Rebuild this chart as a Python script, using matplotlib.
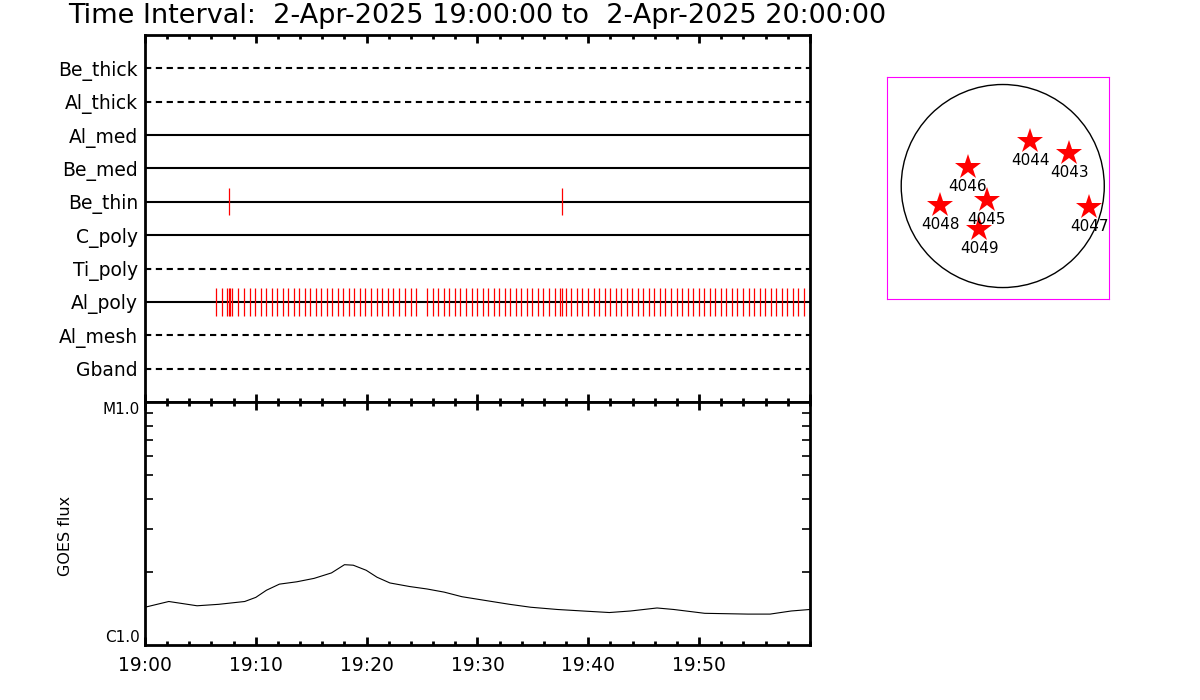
import matplotlib
matplotlib.use('Agg')
import matplotlib.pyplot as plt
from matplotlib.patches import Circle
from matplotlib.ticker import MultipleLocator, LogLocator, NullFormatter

title = 'Time Interval:  2-Apr-2025 19:00:00 to  2-Apr-2025 20:00:00'

# filter rows, top to bottom
filters = ['Be_thick', 'Al_thick', 'Al_med', 'Be_med', 'Be_thin',
           'C_poly', 'Ti_poly', 'Al_poly', 'Al_mesh', 'Gband']
dashed = ['Be_thick', 'Al_thick', 'Ti_poly', 'Al_mesh', 'Gband']

# exposure times, minutes after 19:00
be_thin_times = [7.58, 37.59]
al_poly_times = [
    6.43, 6.92, 7.43, 7.58, 7.70, 7.88, 8.42, 8.96, 9.45, 9.95,
    10.44, 10.94, 11.43, 11.94, 12.42, 12.93, 13.42, 13.92, 14.41, 14.91,
    15.40, 15.91, 16.42, 16.90, 17.41, 17.89, 18.41, 18.88, 19.40, 19.88,
    20.39, 20.91, 21.38, 21.90, 22.40, 22.89, 23.49, 23.97, 24.48, 25.47,
    25.99, 26.46, 26.98, 27.46, 27.97, 28.45, 28.96, 29.48, 29.96, 30.47,
    30.98, 31.49, 31.97, 32.45, 32.96, 33.47, 33.95, 34.47, 34.95, 35.46,
    35.94, 36.48, 36.97, 37.47, 37.65, 37.99, 38.46, 38.95, 39.46, 39.97,
    40.49, 40.96, 41.48, 41.96, 42.47, 42.98, 43.46, 43.97, 44.48, 44.96,
    45.48, 45.95, 46.47, 46.95, 47.46, 47.97, 48.45, 48.97, 49.47, 49.96,
    50.46, 50.95, 51.46, 51.97, 52.45, 52.96, 53.44, 53.96, 54.47, 54.95,
    55.46, 55.97, 56.45, 56.96, 57.45, 57.95, 58.47, 58.95, 59.46, 59.97]

# GOES 1-8 A flux
goes_min = [0.0, 2.15, 4.7, 6.65, 9.0, 10.0, 10.96, 12.13, 13.7, 15.26,
            16.83, 18.0, 18.79, 19.96, 20.94, 22.1, 23.88, 25.45, 27.0, 28.6,
            30.9, 32.9, 34.8, 37.2, 39.5, 41.9, 43.8, 46.2, 47.7, 50.5,
            54.4, 56.4, 58.3, 60.0]
goes_flux = [1.43e-6, 1.51e-6, 1.45e-6, 1.47e-6, 1.51e-6, 1.57e-6, 1.68e-6,
             1.78e-6, 1.82e-6, 1.88e-6, 1.98e-6, 2.14e-6, 2.13e-6, 2.03e-6,
             1.90e-6, 1.80e-6, 1.74e-6, 1.70e-6, 1.65e-6, 1.58e-6, 1.52e-6,
             1.47e-6, 1.43e-6, 1.40e-6, 1.38e-6, 1.36e-6, 1.38e-6, 1.42e-6,
             1.40e-6, 1.35e-6, 1.34e-6, 1.34e-6, 1.38e-6, 1.40e-6]

time_ticks = [0, 10, 20, 30, 40, 50]
time_labels = ['19:00', '19:10', '19:20', '19:30', '19:40', '19:50']

# active regions on the disk (arcsec)
ar_names = ['4044', '4043', '4046', '4045', '4048', '4049', '4047']
ar_x = [258, 630, -331, -152, -593, -220, 816]
ar_y = [428, 315, 182, -132, -180, -410, -196]
sun_radius = 960

plt.rcParams['font.family'] = 'DejaVu Sans'

fig = plt.figure(figsize=(12, 7), dpi=100)
fig.text(0.057, 0.977, title, fontsize=19.5, ha='left', va='center')

# --- filter timeline panel ---
ax1 = fig.add_axes([0.1208, 0.4257, 0.5542, 0.5243])
n = len(filters)
ypos = [n - i for i in range(n)]
for name, y in zip(filters, ypos):
    if name in dashed:
        ax1.axhline(y, color='black', lw=1.5, dashes=(3, 2.2))
    else:
        ax1.axhline(y, color='black', lw=1.5)
y_thin = ypos[filters.index('Be_thin')]
y_poly = ypos[filters.index('Al_poly')]
ax1.vlines(be_thin_times, y_thin - 0.4, y_thin + 0.4, color='red', lw=0.9)
ax1.vlines(al_poly_times, y_poly - 0.42, y_poly + 0.42, color='red', lw=0.9)

ax1.set_xlim(0, 60)
ax1.set_ylim(0, n + 1)
ax1.set_yticks(ypos)
ax1.set_yticklabels(filters, fontsize=13.5)
ax1.tick_params(axis='y', length=0, pad=5)
ax1.xaxis.set_major_locator(MultipleLocator(10))
ax1.xaxis.set_minor_locator(MultipleLocator(2))
ax1.tick_params(axis='x', which='both', direction='in', top=True,
                bottom=True, labelbottom=False, width=2)
ax1.tick_params(axis='x', which='major', length=6)
ax1.tick_params(axis='x', which='minor', length=3)
for sp in ax1.spines.values():
    sp.set_linewidth(2)

# --- GOES panel ---
ax2 = fig.add_axes([0.1208, 0.0786, 0.5542, 0.3471])
ax2.plot(goes_min, goes_flux, color='black', lw=0.8)
ax2.set_yscale('log')
ax2.set_ylim(1e-6, 1e-5)
ax2.set_xlim(0, 60)
ax2.set_yticks([1e-6, 1e-5])
ax2.set_yticklabels(['C1.0', 'M1.0'], fontsize=11)
ax2.get_yticklabels()[0].set_va('bottom')
ax2.get_yticklabels()[1].set_va('top')
ax2.yaxis.set_minor_locator(LogLocator(base=10, subs=range(2, 10)))
ax2.yaxis.set_minor_formatter(NullFormatter())
ax2.tick_params(axis='y', which='both', direction='in', left=True,
                right=True, width=1.2, pad=4)
ax2.tick_params(axis='y', which='major', length=0)
ax2.tick_params(axis='y', which='minor', length=6)
ax2.set_xticks(time_ticks)
ax2.set_xticklabels(time_labels, fontsize=13.5)
ax2.xaxis.set_minor_locator(MultipleLocator(2))
ax2.tick_params(axis='x', which='both', direction='in', top=True,
                bottom=True, width=2, pad=8)
ax2.tick_params(axis='x', which='major', length=6)
ax2.tick_params(axis='x', which='minor', length=3)
ax2.set_ylabel('GOES flux', fontsize=11.5)
ax2.yaxis.set_label_coords(-0.108, 0.45)
for sp in ax2.spines.values():
    sp.set_linewidth(2)

# --- solar disk inset ---
ax3 = fig.add_axes([0.7392, 0.5729, 0.185, 0.3171])
ax3.add_patch(Circle((0, 0), sun_radius, fill=False, color='black', lw=1))
ax3.plot(ar_x, ar_y, ls='none', marker='*', ms=19, color='red', mew=0)
for name, x, y in zip(ar_names, ar_x, ar_y):
    ax3.annotate(name, (x, y), xytext=(0, -14), textcoords='offset points',
                 ha='center', va='center', fontsize=11)
ax3.set_xlim(-1094, 1005)
ax3.set_ylim(-1068, 1031)
ax3.set_xticks([])
ax3.set_yticks([])
for sp in ax3.spines.values():
    sp.set_color('magenta')
    sp.set_linewidth(0.8)

fig.savefig('out.png', dpi=100)
